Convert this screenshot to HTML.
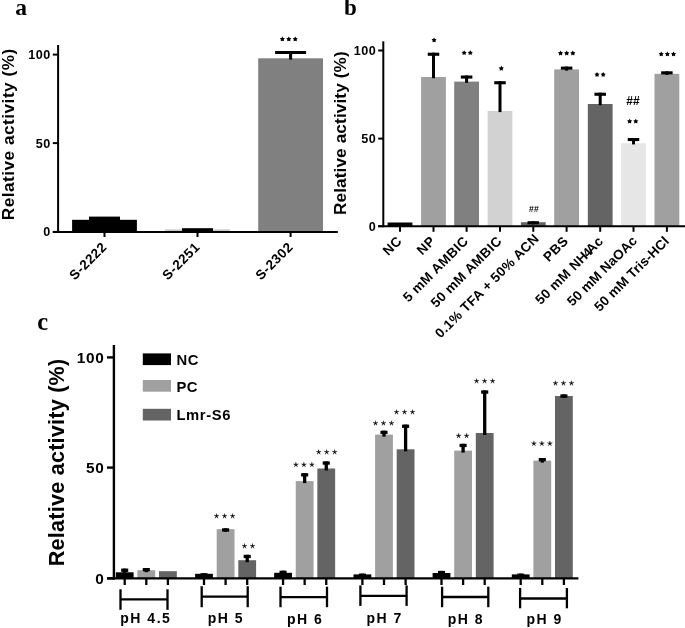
<!DOCTYPE html>
<html><head><meta charset="utf-8"><title>Figure</title>
<style>html,body{margin:0;padding:0;background:#fff;}svg{display:block;will-change:transform;opacity:0.999}text{fill:#000}</style></head>
<body><svg width="685" height="628" viewBox="0 0 685 628">
<rect width="685" height="628" fill="#fff"/>
<text x="15.20" y="15.20" font-family="Liberation Serif" font-size="23.5" font-weight="bold" text-anchor="start" letter-spacing="0" >a</text>
<line x1="52.80" y1="54.60" x2="58.10" y2="54.60" stroke="#000" stroke-width="2.0" stroke-linecap="butt"/>
<text x="50.80" y="59.30" font-family="Liberation Sans" font-size="12.6" font-weight="bold" text-anchor="end" letter-spacing="0.5" >100</text>
<line x1="52.80" y1="143.10" x2="58.10" y2="143.10" stroke="#000" stroke-width="2.0" stroke-linecap="butt"/>
<text x="50.80" y="147.90" font-family="Liberation Sans" font-size="12.6" font-weight="bold" text-anchor="end" letter-spacing="0.5" >50</text>
<line x1="52.80" y1="231.90" x2="58.10" y2="231.90" stroke="#000" stroke-width="2.0" stroke-linecap="butt"/>
<text x="50.80" y="236.10" font-family="Liberation Sans" font-size="12.6" font-weight="bold" text-anchor="end" letter-spacing="0.5" >0</text>
<text transform="translate(14.40,134.30) rotate(-90)" font-family="Liberation Sans" font-size="17.2" font-weight="bold" text-anchor="middle" letter-spacing="0.5" >Relative activity (%)</text>
<rect x="72.10" y="219.80" width="64.80" height="12.10" fill="#000"/>
<rect x="89.00" y="216.60" width="31.00" height="15.30" fill="#000"/>
<line x1="104.50" y1="231.90" x2="104.50" y2="237.00" stroke="#000" stroke-width="2.0" stroke-linecap="butt"/>
<text transform="translate(107.70,247.80) rotate(-45)" font-family="Liberation Sans" font-size="13.5" font-weight="bold" text-anchor="end" letter-spacing="0.5" >S-2222</text>
<rect x="165.00" y="229.40" width="65.00" height="2.50" fill="#c8c8c8"/>
<rect x="182.00" y="228.20" width="31.00" height="3.70" fill="#000"/>
<line x1="197.50" y1="231.90" x2="197.50" y2="237.00" stroke="#000" stroke-width="2.0" stroke-linecap="butt"/>
<text transform="translate(200.70,247.80) rotate(-45)" font-family="Liberation Sans" font-size="13.5" font-weight="bold" text-anchor="end" letter-spacing="0.5" >S-2251</text>
<rect x="258.20" y="58.30" width="64.80" height="173.60" fill="#808080"/>
<rect x="275.10" y="51.00" width="31.00" height="3.00" fill="#000"/>
<rect x="289.10" y="51.00" width="3.00" height="8.60" fill="#000"/>
<line x1="290.60" y1="231.90" x2="290.60" y2="237.00" stroke="#000" stroke-width="2.0" stroke-linecap="butt"/>
<text transform="translate(293.80,247.80) rotate(-45)" font-family="Liberation Sans" font-size="13.5" font-weight="bold" text-anchor="end" letter-spacing="0.5" >S-2302</text>
<polygon points="282.35,36.46 283.22,37.96 284.92,38.32 283.76,39.62 283.94,41.34 282.35,40.64 280.76,41.34 280.94,39.62 279.78,38.32 281.48,37.96" fill="#000"/>
<polygon points="288.80,36.46 289.67,37.96 291.37,38.32 290.21,39.62 290.39,41.34 288.80,40.64 287.21,41.34 287.39,39.62 286.23,38.32 287.93,37.96" fill="#000"/>
<polygon points="295.25,36.46 296.12,37.96 297.82,38.32 296.66,39.62 296.84,41.34 295.25,40.64 293.66,41.34 293.84,39.62 292.68,38.32 294.38,37.96" fill="#000"/>
<line x1="58.10" y1="45.00" x2="58.10" y2="232.90" stroke="#000" stroke-width="2.0" stroke-linecap="butt"/>
<line x1="52.80" y1="231.90" x2="337.80" y2="231.90" stroke="#000" stroke-width="2.0" stroke-linecap="butt"/>
<text x="344.00" y="15.20" font-family="Liberation Serif" font-size="23" font-weight="bold" text-anchor="start" letter-spacing="0" >b</text>
<line x1="378.20" y1="50.50" x2="383.30" y2="50.50" stroke="#000" stroke-width="2.0" stroke-linecap="butt"/>
<text x="376.30" y="55.30" font-family="Liberation Sans" font-size="12.6" font-weight="bold" text-anchor="end" letter-spacing="0.5" >100</text>
<line x1="378.20" y1="138.60" x2="383.30" y2="138.60" stroke="#000" stroke-width="2.0" stroke-linecap="butt"/>
<text x="376.30" y="143.40" font-family="Liberation Sans" font-size="12.6" font-weight="bold" text-anchor="end" letter-spacing="0.5" >50</text>
<line x1="378.20" y1="226.20" x2="383.30" y2="226.20" stroke="#000" stroke-width="2.0" stroke-linecap="butt"/>
<text x="376.30" y="231.00" font-family="Liberation Sans" font-size="12.6" font-weight="bold" text-anchor="end" letter-spacing="0.5" >0</text>
<text transform="translate(346.40,133.10) rotate(-90)" font-family="Liberation Sans" font-size="17.2" font-weight="bold" text-anchor="middle" letter-spacing="0.12" >Relative activity (%)</text>
<rect x="387.60" y="222.50" width="24.80" height="3.70" fill="#000"/>
<line x1="400.00" y1="226.20" x2="400.00" y2="231.80" stroke="#000" stroke-width="2.0" stroke-linecap="butt"/>
<text transform="translate(402.60,241.90) rotate(-45)" font-family="Liberation Sans" font-size="13.5" font-weight="bold" text-anchor="end" letter-spacing="0.4" >NC</text>
<rect x="421.10" y="77.00" width="24.80" height="149.20" fill="#a0a0a0"/>
<rect x="427.75" y="52.70" width="11.50" height="3.10" fill="#000"/>
<rect x="432.00" y="52.70" width="3.00" height="25.50" fill="#000"/>
<line x1="433.50" y1="226.20" x2="433.50" y2="231.80" stroke="#000" stroke-width="2.0" stroke-linecap="butt"/>
<text transform="translate(436.10,241.90) rotate(-45)" font-family="Liberation Sans" font-size="13.5" font-weight="bold" text-anchor="end" letter-spacing="0.4" >NP</text>
<rect x="454.20" y="81.60" width="24.80" height="144.60" fill="#808080"/>
<rect x="460.85" y="75.50" width="11.50" height="3.10" fill="#000"/>
<rect x="465.10" y="75.50" width="3.00" height="7.30" fill="#000"/>
<line x1="466.60" y1="226.20" x2="466.60" y2="231.80" stroke="#000" stroke-width="2.0" stroke-linecap="butt"/>
<text transform="translate(469.20,241.90) rotate(-45)" font-family="Liberation Sans" font-size="13.5" font-weight="bold" text-anchor="end" letter-spacing="0.4" >5 mM AMBIC</text>
<rect x="487.60" y="110.90" width="24.80" height="115.30" fill="#d2d2d2"/>
<rect x="494.25" y="81.20" width="11.50" height="3.10" fill="#000"/>
<rect x="498.50" y="81.20" width="3.00" height="30.90" fill="#000"/>
<line x1="500.00" y1="226.20" x2="500.00" y2="231.80" stroke="#000" stroke-width="2.0" stroke-linecap="butt"/>
<text transform="translate(502.60,241.90) rotate(-45)" font-family="Liberation Sans" font-size="13.5" font-weight="bold" text-anchor="end" letter-spacing="0.4" >50 mM AMBIC</text>
<rect x="520.90" y="222.20" width="24.80" height="4.00" fill="#646464"/>
<rect x="527.55" y="221.20" width="11.50" height="3.10" fill="#000"/>
<rect x="531.80" y="221.20" width="3.00" height="3.10" fill="#000"/>
<line x1="533.30" y1="226.20" x2="533.30" y2="231.80" stroke="#000" stroke-width="2.0" stroke-linecap="butt"/>
<text transform="translate(539.80,239.40) rotate(-45)" font-family="Liberation Sans" font-size="13.5" font-weight="bold" text-anchor="end" letter-spacing="0.33" >0.1% TFA + 50% ACN</text>
<rect x="554.20" y="69.40" width="24.80" height="156.80" fill="#a0a0a0"/>
<rect x="560.85" y="66.60" width="11.50" height="3.10" fill="#000"/>
<rect x="565.10" y="66.60" width="3.00" height="4.00" fill="#000"/>
<line x1="566.60" y1="226.20" x2="566.60" y2="231.80" stroke="#000" stroke-width="2.0" stroke-linecap="butt"/>
<text transform="translate(569.20,241.90) rotate(-45)" font-family="Liberation Sans" font-size="13.5" font-weight="bold" text-anchor="end" letter-spacing="0.4" >PBS</text>
<rect x="587.80" y="104.00" width="24.80" height="122.20" fill="#646464"/>
<rect x="594.45" y="92.70" width="11.50" height="3.10" fill="#000"/>
<rect x="598.70" y="92.70" width="3.00" height="12.50" fill="#000"/>
<line x1="600.20" y1="226.20" x2="600.20" y2="231.80" stroke="#000" stroke-width="2.0" stroke-linecap="butt"/>
<text transform="translate(604.10,241.90) rotate(-45)" font-family="Liberation Sans" font-size="13.5" font-weight="bold" text-anchor="end" letter-spacing="0.4" >50 mM NH<tspan font-size="13" dx="-2.0">4</tspan><tspan dx="-2.4">Ac</tspan></text>
<rect x="621.10" y="143.20" width="24.80" height="83.00" fill="#e6e6e6"/>
<rect x="627.75" y="138.00" width="11.50" height="3.10" fill="#000"/>
<rect x="632.00" y="138.00" width="3.00" height="6.40" fill="#000"/>
<line x1="633.50" y1="226.20" x2="633.50" y2="231.80" stroke="#000" stroke-width="2.0" stroke-linecap="butt"/>
<text transform="translate(637.90,241.50) rotate(-45)" font-family="Liberation Sans" font-size="13.5" font-weight="bold" text-anchor="end" letter-spacing="0.15" >50 mM NaOAc</text>
<rect x="654.50" y="73.80" width="24.80" height="152.40" fill="#a0a0a0"/>
<rect x="661.15" y="71.30" width="11.50" height="3.10" fill="#000"/>
<rect x="665.40" y="71.30" width="3.00" height="3.70" fill="#000"/>
<line x1="666.90" y1="226.20" x2="666.90" y2="231.80" stroke="#000" stroke-width="2.0" stroke-linecap="butt"/>
<text transform="translate(669.90,241.90) rotate(-45)" font-family="Liberation Sans" font-size="13.5" font-weight="bold" text-anchor="end" letter-spacing="0.13" >50 mM Tris-HCl</text>
<polygon points="434.10,37.46 434.97,38.96 436.67,39.32 435.51,40.62 435.69,42.34 434.10,41.64 432.51,42.34 432.69,40.62 431.53,39.32 433.23,38.96" fill="#000"/>
<polygon points="464.12,50.16 465.00,51.66 466.69,52.02 465.54,53.32 465.71,55.04 464.12,54.34 462.54,55.04 462.71,53.32 461.56,52.02 463.25,51.66" fill="#000"/>
<polygon points="470.27,50.16 471.15,51.66 472.84,52.02 471.69,53.32 471.86,55.04 470.27,54.34 468.69,55.04 468.86,53.32 467.71,52.02 469.40,51.66" fill="#000"/>
<polygon points="501.30,65.76 502.17,67.26 503.87,67.62 502.71,68.92 502.89,70.64 501.30,69.94 499.71,70.64 499.89,68.92 498.73,67.62 500.43,67.26" fill="#000"/>
<polygon points="560.55,50.56 561.42,52.06 563.12,52.42 561.96,53.72 562.14,55.44 560.55,54.74 558.96,55.44 559.14,53.72 557.98,52.42 559.68,52.06" fill="#000"/>
<polygon points="566.70,50.56 567.57,52.06 569.27,52.42 568.11,53.72 568.29,55.44 566.70,54.74 565.11,55.44 565.29,53.72 564.13,52.42 565.83,52.06" fill="#000"/>
<polygon points="572.85,50.56 573.72,52.06 575.42,52.42 574.26,53.72 574.44,55.44 572.85,54.74 571.26,55.44 571.44,53.72 570.28,52.42 571.98,52.06" fill="#000"/>
<polygon points="597.02,71.96 597.90,73.46 599.59,73.82 598.44,75.12 598.61,76.84 597.02,76.14 595.44,76.84 595.61,75.12 594.46,73.82 596.15,73.46" fill="#000"/>
<polygon points="603.18,71.96 604.05,73.46 605.74,73.82 604.59,75.12 604.76,76.84 603.18,76.14 601.59,76.84 601.76,75.12 600.61,73.82 602.30,73.46" fill="#000"/>
<polygon points="629.62,118.66 630.50,120.16 632.19,120.52 631.04,121.82 631.21,123.54 629.62,122.84 628.04,123.54 628.21,121.82 627.06,120.52 628.75,120.16" fill="#000"/>
<polygon points="635.78,118.66 636.65,120.16 638.34,120.52 637.19,121.82 637.36,123.54 635.78,122.84 634.19,123.54 634.36,121.82 633.21,120.52 634.90,120.16" fill="#000"/>
<text x="632.90" y="104.70" font-family="Liberation Sans" font-size="12" font-weight="bold" text-anchor="middle" letter-spacing="0" >##</text>
<text x="534.10" y="212.00" font-family="Liberation Sans" font-size="8.6" font-weight="bold" text-anchor="middle" letter-spacing="0.3" >##</text>
<polygon points="661.25,51.46 662.12,52.96 663.82,53.32 662.66,54.62 662.84,56.34 661.25,55.64 659.66,56.34 659.84,54.62 658.68,53.32 660.38,52.96" fill="#000"/>
<polygon points="667.40,51.46 668.27,52.96 669.97,53.32 668.81,54.62 668.99,56.34 667.40,55.64 665.81,56.34 665.99,54.62 664.83,53.32 666.53,52.96" fill="#000"/>
<polygon points="673.55,51.46 674.42,52.96 676.12,53.32 674.96,54.62 675.14,56.34 673.55,55.64 671.96,56.34 672.14,54.62 670.98,53.32 672.68,52.96" fill="#000"/>
<line x1="383.30" y1="41.30" x2="383.30" y2="227.20" stroke="#000" stroke-width="2.0" stroke-linecap="butt"/>
<line x1="378.20" y1="226.20" x2="685.00" y2="226.20" stroke="#000" stroke-width="2.0" stroke-linecap="butt"/>
<text x="37.20" y="329.50" font-family="Liberation Serif" font-size="24.5" font-weight="bold" text-anchor="start" letter-spacing="0" >c</text>
<line x1="107.00" y1="357.40" x2="113.90" y2="357.40" stroke="#000" stroke-width="2.4" stroke-linecap="butt"/>
<text x="104.50" y="363.00" font-family="Liberation Sans" font-size="15.4" font-weight="bold" text-anchor="end" letter-spacing="0.7" >100</text>
<line x1="107.00" y1="467.60" x2="113.90" y2="467.60" stroke="#000" stroke-width="2.4" stroke-linecap="butt"/>
<text x="104.50" y="473.20" font-family="Liberation Sans" font-size="15.4" font-weight="bold" text-anchor="end" letter-spacing="0.7" >50</text>
<line x1="107.00" y1="578.40" x2="113.90" y2="578.40" stroke="#000" stroke-width="2.4" stroke-linecap="butt"/>
<text x="104.50" y="584.00" font-family="Liberation Sans" font-size="15.4" font-weight="bold" text-anchor="end" letter-spacing="0.7" >0</text>
<text transform="translate(64.00,462.40) rotate(-90)" font-family="Liberation Sans" font-size="21.6" font-weight="bold" text-anchor="middle" letter-spacing="0.23" >Relative activity (%)</text>
<rect x="142.80" y="353.40" width="28.20" height="11.70" fill="#000"/>
<text x="176.40" y="365.00" font-family="Liberation Sans" font-size="14.8" font-weight="bold" text-anchor="start" letter-spacing="0.6" >NC</text>
<rect x="142.80" y="380.00" width="28.20" height="11.70" fill="#a0a0a0"/>
<text x="176.40" y="391.60" font-family="Liberation Sans" font-size="14.8" font-weight="bold" text-anchor="start" letter-spacing="0.6" >PC</text>
<rect x="142.80" y="408.80" width="28.20" height="11.70" fill="#646464"/>
<text x="176.40" y="420.40" font-family="Liberation Sans" font-size="14.8" font-weight="bold" text-anchor="start" letter-spacing="0.6" >Lmr-S6</text>
<rect x="115.80" y="572.30" width="17.80" height="6.10" fill="#000"/>
<rect x="121.15" y="568.60" width="7.10" height="3.30" fill="#000"/>
<rect x="123.05" y="568.60" width="3.30" height="5.70" fill="#000"/>
<line x1="124.70" y1="578.40" x2="124.70" y2="585.00" stroke="#000" stroke-width="2.3" stroke-linecap="butt"/>
<rect x="137.40" y="570.20" width="17.80" height="8.20" fill="#a0a0a0"/>
<rect x="142.75" y="568.00" width="7.10" height="3.30" fill="#000"/>
<rect x="144.65" y="568.00" width="3.30" height="4.20" fill="#000"/>
<line x1="146.30" y1="578.40" x2="146.30" y2="585.00" stroke="#000" stroke-width="2.3" stroke-linecap="butt"/>
<rect x="159.00" y="571.20" width="17.80" height="7.20" fill="#646464"/>
<line x1="167.90" y1="578.40" x2="167.90" y2="585.00" stroke="#000" stroke-width="2.3" stroke-linecap="butt"/>
<line x1="120.50" y1="589.30" x2="120.50" y2="609.80" stroke="#000" stroke-width="2.3" stroke-linecap="butt"/>
<line x1="167.50" y1="589.30" x2="167.50" y2="609.80" stroke="#000" stroke-width="2.3" stroke-linecap="butt"/>
<line x1="120.50" y1="599.40" x2="167.50" y2="599.40" stroke="#000" stroke-width="2.3" stroke-linecap="butt"/>
<text x="120.30" y="623.00" font-family="Liberation Sans" font-size="14" font-weight="bold" text-anchor="start" letter-spacing="1.5" >pH 4.5</text>
<rect x="195.10" y="573.80" width="17.80" height="4.60" fill="#000"/>
<rect x="200.45" y="573.20" width="7.10" height="3.30" fill="#000"/>
<rect x="202.35" y="573.20" width="3.30" height="3.30" fill="#000"/>
<line x1="204.00" y1="578.40" x2="204.00" y2="585.00" stroke="#000" stroke-width="2.3" stroke-linecap="butt"/>
<rect x="216.70" y="529.20" width="17.80" height="49.20" fill="#a0a0a0"/>
<rect x="222.05" y="528.30" width="7.10" height="3.30" fill="#000"/>
<rect x="223.95" y="528.30" width="3.30" height="3.30" fill="#000"/>
<line x1="225.60" y1="578.40" x2="225.60" y2="585.00" stroke="#000" stroke-width="2.3" stroke-linecap="butt"/>
<rect x="238.30" y="560.20" width="17.80" height="18.20" fill="#646464"/>
<rect x="243.65" y="554.80" width="7.10" height="3.30" fill="#000"/>
<rect x="245.55" y="554.80" width="3.30" height="7.40" fill="#000"/>
<line x1="247.20" y1="578.40" x2="247.20" y2="585.00" stroke="#000" stroke-width="2.3" stroke-linecap="butt"/>
<line x1="201.70" y1="586.20" x2="201.70" y2="607.20" stroke="#000" stroke-width="2.3" stroke-linecap="butt"/>
<line x1="247.70" y1="586.20" x2="247.70" y2="607.20" stroke="#000" stroke-width="2.3" stroke-linecap="butt"/>
<line x1="201.70" y1="596.70" x2="247.70" y2="596.70" stroke="#000" stroke-width="2.3" stroke-linecap="butt"/>
<text x="207.80" y="623.00" font-family="Liberation Sans" font-size="14" font-weight="bold" text-anchor="start" letter-spacing="1.5" >pH 5</text>
<rect x="274.15" y="572.80" width="17.80" height="5.60" fill="#000"/>
<rect x="279.50" y="570.70" width="7.10" height="3.30" fill="#000"/>
<rect x="281.40" y="570.70" width="3.30" height="4.10" fill="#000"/>
<line x1="283.05" y1="578.40" x2="283.05" y2="585.00" stroke="#000" stroke-width="2.3" stroke-linecap="butt"/>
<rect x="295.75" y="481.10" width="17.80" height="97.30" fill="#a0a0a0"/>
<rect x="301.10" y="473.20" width="7.10" height="3.30" fill="#000"/>
<rect x="303.00" y="473.20" width="3.30" height="9.90" fill="#000"/>
<line x1="304.65" y1="578.40" x2="304.65" y2="585.00" stroke="#000" stroke-width="2.3" stroke-linecap="butt"/>
<rect x="317.35" y="468.50" width="17.80" height="109.90" fill="#646464"/>
<rect x="322.70" y="461.40" width="7.10" height="3.30" fill="#000"/>
<rect x="324.60" y="461.40" width="3.30" height="9.10" fill="#000"/>
<line x1="326.25" y1="578.40" x2="326.25" y2="585.00" stroke="#000" stroke-width="2.3" stroke-linecap="butt"/>
<line x1="280.50" y1="586.70" x2="280.50" y2="607.20" stroke="#000" stroke-width="2.3" stroke-linecap="butt"/>
<line x1="327.00" y1="586.70" x2="327.00" y2="607.20" stroke="#000" stroke-width="2.3" stroke-linecap="butt"/>
<line x1="280.50" y1="597.20" x2="327.00" y2="597.20" stroke="#000" stroke-width="2.3" stroke-linecap="butt"/>
<text x="286.90" y="624.30" font-family="Liberation Sans" font-size="14" font-weight="bold" text-anchor="start" letter-spacing="1.5" >pH 6</text>
<rect x="353.50" y="574.40" width="17.80" height="4.00" fill="#000"/>
<rect x="358.85" y="573.60" width="7.10" height="3.30" fill="#000"/>
<rect x="360.75" y="573.60" width="3.30" height="3.30" fill="#000"/>
<line x1="362.40" y1="578.40" x2="362.40" y2="585.00" stroke="#000" stroke-width="2.3" stroke-linecap="butt"/>
<rect x="375.10" y="434.60" width="17.80" height="143.80" fill="#a0a0a0"/>
<rect x="380.45" y="430.70" width="7.10" height="3.30" fill="#000"/>
<rect x="382.35" y="430.70" width="3.30" height="5.90" fill="#000"/>
<line x1="384.00" y1="578.40" x2="384.00" y2="585.00" stroke="#000" stroke-width="2.3" stroke-linecap="butt"/>
<rect x="396.70" y="449.30" width="17.80" height="129.10" fill="#646464"/>
<rect x="402.05" y="424.60" width="7.10" height="3.30" fill="#000"/>
<rect x="403.95" y="424.60" width="3.30" height="26.70" fill="#000"/>
<line x1="405.60" y1="578.40" x2="405.60" y2="585.00" stroke="#000" stroke-width="2.3" stroke-linecap="butt"/>
<line x1="360.40" y1="585.40" x2="360.40" y2="605.90" stroke="#000" stroke-width="2.3" stroke-linecap="butt"/>
<line x1="406.60" y1="585.40" x2="406.60" y2="605.90" stroke="#000" stroke-width="2.3" stroke-linecap="butt"/>
<line x1="360.40" y1="595.90" x2="406.60" y2="595.90" stroke="#000" stroke-width="2.3" stroke-linecap="butt"/>
<text x="366.50" y="623.00" font-family="Liberation Sans" font-size="14" font-weight="bold" text-anchor="start" letter-spacing="1.5" >pH 7</text>
<rect x="432.60" y="573.00" width="17.80" height="5.40" fill="#000"/>
<rect x="437.95" y="570.90" width="7.10" height="3.30" fill="#000"/>
<rect x="439.85" y="570.90" width="3.30" height="4.10" fill="#000"/>
<line x1="441.50" y1="578.40" x2="441.50" y2="585.00" stroke="#000" stroke-width="2.3" stroke-linecap="butt"/>
<rect x="454.20" y="450.60" width="17.80" height="127.80" fill="#a0a0a0"/>
<rect x="459.55" y="443.80" width="7.10" height="3.30" fill="#000"/>
<rect x="461.45" y="443.80" width="3.30" height="8.80" fill="#000"/>
<line x1="463.10" y1="578.40" x2="463.10" y2="585.00" stroke="#000" stroke-width="2.3" stroke-linecap="butt"/>
<rect x="475.80" y="433.00" width="17.80" height="145.40" fill="#646464"/>
<rect x="481.15" y="390.40" width="7.10" height="3.30" fill="#000"/>
<rect x="483.05" y="390.40" width="3.30" height="44.60" fill="#000"/>
<line x1="484.70" y1="578.40" x2="484.70" y2="585.00" stroke="#000" stroke-width="2.3" stroke-linecap="butt"/>
<line x1="442.10" y1="586.70" x2="442.10" y2="607.20" stroke="#000" stroke-width="2.3" stroke-linecap="butt"/>
<line x1="488.30" y1="586.70" x2="488.30" y2="607.20" stroke="#000" stroke-width="2.3" stroke-linecap="butt"/>
<line x1="442.10" y1="597.00" x2="488.30" y2="597.00" stroke="#000" stroke-width="2.3" stroke-linecap="butt"/>
<text x="447.70" y="624.00" font-family="Liberation Sans" font-size="14" font-weight="bold" text-anchor="start" letter-spacing="1.5" >pH 8</text>
<rect x="511.80" y="574.40" width="17.80" height="4.00" fill="#000"/>
<rect x="517.15" y="573.60" width="7.10" height="3.30" fill="#000"/>
<rect x="519.05" y="573.60" width="3.30" height="3.30" fill="#000"/>
<line x1="520.70" y1="578.40" x2="520.70" y2="585.00" stroke="#000" stroke-width="2.3" stroke-linecap="butt"/>
<rect x="533.40" y="460.60" width="17.80" height="117.80" fill="#a0a0a0"/>
<rect x="538.75" y="458.00" width="7.10" height="3.30" fill="#000"/>
<rect x="540.65" y="458.00" width="3.30" height="4.60" fill="#000"/>
<line x1="542.30" y1="578.40" x2="542.30" y2="585.00" stroke="#000" stroke-width="2.3" stroke-linecap="butt"/>
<rect x="555.00" y="396.00" width="17.80" height="182.40" fill="#646464"/>
<rect x="560.35" y="394.40" width="7.10" height="3.30" fill="#000"/>
<rect x="562.25" y="394.40" width="3.30" height="3.60" fill="#000"/>
<line x1="563.90" y1="578.40" x2="563.90" y2="585.00" stroke="#000" stroke-width="2.3" stroke-linecap="butt"/>
<line x1="520.10" y1="588.00" x2="520.10" y2="608.30" stroke="#000" stroke-width="2.3" stroke-linecap="butt"/>
<line x1="566.90" y1="588.00" x2="566.90" y2="608.30" stroke="#000" stroke-width="2.3" stroke-linecap="butt"/>
<line x1="520.10" y1="598.50" x2="566.90" y2="598.50" stroke="#000" stroke-width="2.3" stroke-linecap="butt"/>
<text x="526.50" y="623.50" font-family="Liberation Sans" font-size="14" font-weight="bold" text-anchor="start" letter-spacing="1.5" >pH 9</text>
<line x1="113.90" y1="345.00" x2="113.90" y2="579.60" stroke="#000" stroke-width="2.4" stroke-linecap="butt"/>
<line x1="107.00" y1="578.40" x2="578.40" y2="578.40" stroke="#000" stroke-width="2.4" stroke-linecap="butt"/>
<polygon points="216.60,513.55 217.01,515.58 219.07,515.34 217.27,516.36 218.13,518.25 216.60,516.85 215.07,518.25 215.93,516.36 214.13,515.34 216.19,515.58" fill="#000" stroke="#000" stroke-width="0.35" stroke-linejoin="miter"/>
<polygon points="224.60,513.55 225.01,515.58 227.07,515.34 225.27,516.36 226.13,518.25 224.60,516.85 223.07,518.25 223.93,516.36 222.13,515.34 224.19,515.58" fill="#000" stroke="#000" stroke-width="0.35" stroke-linejoin="miter"/>
<polygon points="232.60,513.55 233.01,515.58 235.07,515.34 233.27,516.36 234.13,518.25 232.60,516.85 231.07,518.25 231.93,516.36 230.13,515.34 232.19,515.58" fill="#000" stroke="#000" stroke-width="0.35" stroke-linejoin="miter"/>
<polygon points="244.50,543.55 244.91,545.58 246.97,545.34 245.17,546.36 246.03,548.25 244.50,546.85 242.97,548.25 243.83,546.36 242.03,545.34 244.09,545.58" fill="#000" stroke="#000" stroke-width="0.35" stroke-linejoin="miter"/>
<polygon points="252.50,543.55 252.91,545.58 254.97,545.34 253.17,546.36 254.03,548.25 252.50,546.85 250.97,548.25 251.83,546.36 250.03,545.34 252.09,545.58" fill="#000" stroke="#000" stroke-width="0.35" stroke-linejoin="miter"/>
<polygon points="295.90,462.15 296.31,464.18 298.37,463.94 296.57,464.96 297.43,466.85 295.90,465.45 294.37,466.85 295.23,464.96 293.43,463.94 295.49,464.18" fill="#000" stroke="#000" stroke-width="0.35" stroke-linejoin="miter"/>
<polygon points="303.90,462.15 304.31,464.18 306.37,463.94 304.57,464.96 305.43,466.85 303.90,465.45 302.37,466.85 303.23,464.96 301.43,463.94 303.49,464.18" fill="#000" stroke="#000" stroke-width="0.35" stroke-linejoin="miter"/>
<polygon points="311.90,462.15 312.31,464.18 314.37,463.94 312.57,464.96 313.43,466.85 311.90,465.45 310.37,466.85 311.23,464.96 309.43,463.94 311.49,464.18" fill="#000" stroke="#000" stroke-width="0.35" stroke-linejoin="miter"/>
<polygon points="318.70,449.55 319.11,451.58 321.17,451.34 319.37,452.36 320.23,454.25 318.70,452.85 317.17,454.25 318.03,452.36 316.23,451.34 318.29,451.58" fill="#000" stroke="#000" stroke-width="0.35" stroke-linejoin="miter"/>
<polygon points="326.70,449.55 327.11,451.58 329.17,451.34 327.37,452.36 328.23,454.25 326.70,452.85 325.17,454.25 326.03,452.36 324.23,451.34 326.29,451.58" fill="#000" stroke="#000" stroke-width="0.35" stroke-linejoin="miter"/>
<polygon points="334.70,449.55 335.11,451.58 337.17,451.34 335.37,452.36 336.23,454.25 334.70,452.85 333.17,454.25 334.03,452.36 332.23,451.34 334.29,451.58" fill="#000" stroke="#000" stroke-width="0.35" stroke-linejoin="miter"/>
<polygon points="375.50,420.65 375.91,422.68 377.97,422.44 376.17,423.46 377.03,425.35 375.50,423.95 373.97,425.35 374.83,423.46 373.03,422.44 375.09,422.68" fill="#000" stroke="#000" stroke-width="0.35" stroke-linejoin="miter"/>
<polygon points="383.50,420.65 383.91,422.68 385.97,422.44 384.17,423.46 385.03,425.35 383.50,423.95 381.97,425.35 382.83,423.46 381.03,422.44 383.09,422.68" fill="#000" stroke="#000" stroke-width="0.35" stroke-linejoin="miter"/>
<polygon points="391.50,420.65 391.91,422.68 393.97,422.44 392.17,423.46 393.03,425.35 391.50,423.95 389.97,425.35 390.83,423.46 389.03,422.44 391.09,422.68" fill="#000" stroke="#000" stroke-width="0.35" stroke-linejoin="miter"/>
<polygon points="396.50,409.55 396.91,411.58 398.97,411.34 397.17,412.36 398.03,414.25 396.50,412.85 394.97,414.25 395.83,412.36 394.03,411.34 396.09,411.58" fill="#000" stroke="#000" stroke-width="0.35" stroke-linejoin="miter"/>
<polygon points="404.50,409.55 404.91,411.58 406.97,411.34 405.17,412.36 406.03,414.25 404.50,412.85 402.97,414.25 403.83,412.36 402.03,411.34 404.09,411.58" fill="#000" stroke="#000" stroke-width="0.35" stroke-linejoin="miter"/>
<polygon points="412.50,409.55 412.91,411.58 414.97,411.34 413.17,412.36 414.03,414.25 412.50,412.85 410.97,414.25 411.83,412.36 410.03,411.34 412.09,411.58" fill="#000" stroke="#000" stroke-width="0.35" stroke-linejoin="miter"/>
<polygon points="458.60,433.25 459.01,435.28 461.07,435.04 459.27,436.06 460.13,437.95 458.60,436.55 457.07,437.95 457.93,436.06 456.13,435.04 458.19,435.28" fill="#000" stroke="#000" stroke-width="0.35" stroke-linejoin="miter"/>
<polygon points="466.60,433.25 467.01,435.28 469.07,435.04 467.27,436.06 468.13,437.95 466.60,436.55 465.07,437.95 465.93,436.06 464.13,435.04 466.19,435.28" fill="#000" stroke="#000" stroke-width="0.35" stroke-linejoin="miter"/>
<polygon points="476.60,378.55 477.01,380.58 479.07,380.34 477.27,381.36 478.13,383.25 476.60,381.85 475.07,383.25 475.93,381.36 474.13,380.34 476.19,380.58" fill="#000" stroke="#000" stroke-width="0.35" stroke-linejoin="miter"/>
<polygon points="484.60,378.55 485.01,380.58 487.07,380.34 485.27,381.36 486.13,383.25 484.60,381.85 483.07,383.25 483.93,381.36 482.13,380.34 484.19,380.58" fill="#000" stroke="#000" stroke-width="0.35" stroke-linejoin="miter"/>
<polygon points="492.60,378.55 493.01,380.58 495.07,380.34 493.27,381.36 494.13,383.25 492.60,381.85 491.07,383.25 491.93,381.36 490.13,380.34 492.19,380.58" fill="#000" stroke="#000" stroke-width="0.35" stroke-linejoin="miter"/>
<polygon points="533.90,441.05 534.31,443.08 536.37,442.84 534.57,443.86 535.43,445.75 533.90,444.35 532.37,445.75 533.23,443.86 531.43,442.84 533.49,443.08" fill="#000" stroke="#000" stroke-width="0.35" stroke-linejoin="miter"/>
<polygon points="541.90,441.05 542.31,443.08 544.37,442.84 542.57,443.86 543.43,445.75 541.90,444.35 540.37,445.75 541.23,443.86 539.43,442.84 541.49,443.08" fill="#000" stroke="#000" stroke-width="0.35" stroke-linejoin="miter"/>
<polygon points="549.90,441.05 550.31,443.08 552.37,442.84 550.57,443.86 551.43,445.75 549.90,444.35 548.37,445.75 549.23,443.86 547.43,442.84 549.49,443.08" fill="#000" stroke="#000" stroke-width="0.35" stroke-linejoin="miter"/>
<polygon points="555.50,380.65 555.91,382.68 557.97,382.44 556.17,383.46 557.03,385.35 555.50,383.95 553.97,385.35 554.83,383.46 553.03,382.44 555.09,382.68" fill="#000" stroke="#000" stroke-width="0.35" stroke-linejoin="miter"/>
<polygon points="563.50,380.65 563.91,382.68 565.97,382.44 564.17,383.46 565.03,385.35 563.50,383.95 561.97,385.35 562.83,383.46 561.03,382.44 563.09,382.68" fill="#000" stroke="#000" stroke-width="0.35" stroke-linejoin="miter"/>
<polygon points="571.50,380.65 571.91,382.68 573.97,382.44 572.17,383.46 573.03,385.35 571.50,383.95 569.97,385.35 570.83,383.46 569.03,382.44 571.09,382.68" fill="#000" stroke="#000" stroke-width="0.35" stroke-linejoin="miter"/>
</svg></body></html>
